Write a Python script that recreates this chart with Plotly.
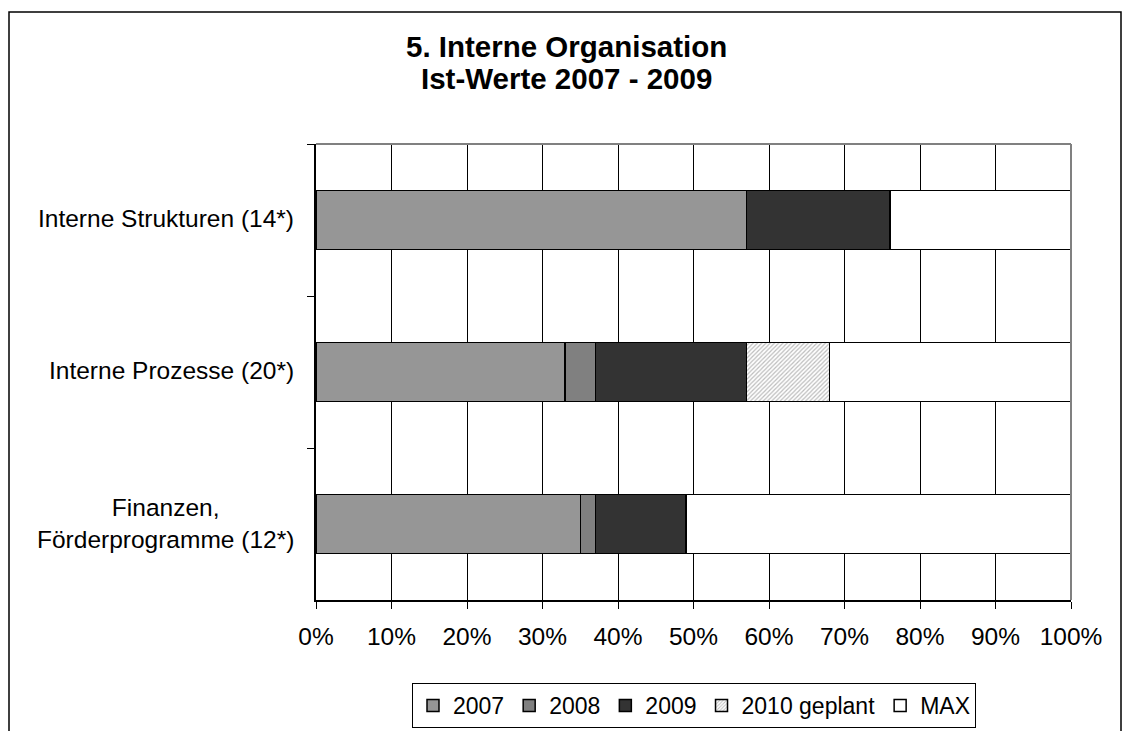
import plotly.graph_objects as go

categories = ["Interne Strukturen (14*)", "Interne Prozesse (20*)", "Finanzen,<br>Förderprogramme (12*)"]
series_names = ["2007", "2008", "2009", "2010 geplant", "MAX"]
v2007 = [57, 33, 35]
v2008 = [0, 4, 2]
v2009 = [19, 20, 12]
v2010 = [0, 11, 0]
vmax = [24, 32, 51]
x_ticks = [0, 10, 20, 30, 40, 50, 60, 70, 80, 90, 100]
x_tick_labels = [f"{t}%" for t in x_ticks]
title_lines = ["5. Interne Organisation", "Ist-Werte 2007 - 2009"]

FONT = "Liberation Sans, Arial, sans-serif"
values = [v2007, v2008, v2009, v2010, vmax]
colors = ["#969696", "#808080", "#333333", "#ffffff", "#ffffff"]

# pixel geometry of the plot area
PL, PR, PT, PB = 316, 1071, 144, 600
PW, PH = PR - PL, PB - PT

def px_x(px):
    return (px - PL) / PW

def px_y(py):
    return (PB - py) / PH

fig = go.Figure()
for name, vals, col in zip(series_names, values, colors):
    marker = dict(color=col, line=dict(color="#000000", width=1.5))
    if name == "2010 geplant":
        marker["pattern"] = dict(shape="/", fgcolor="#7a7a7a", bgcolor="#ffffff",
                                 size=3, solidity=0.4)
    fig.add_trace(go.Bar(
        name=name, x=vals, y=categories, orientation="h",
        marker=marker, width=0.39,
    ))

# category labels, centred lines like the original
for cat in categories:
    fig.add_annotation(
        x=0, xref="paper", y=cat, yref="y", text=cat, showarrow=False,
        xanchor="right", xshift=-20, yshift=1 if "<br>" in cat else 2,
        align="center",
        font=dict(family=FONT, size=24.5, color="#000000"),
    )

# title lines
for line, py in zip(title_lines, [46, 78]):
    fig.add_annotation(
        x=px_x(566), xref="paper", y=px_y(py), yref="paper",
        text=f"<b>{line}</b>", showarrow=False, xanchor="center", yanchor="middle",
        font=dict(family=FONT, size=29.5, color="#000000"),
    )

# plot-area top/right borders (grey)
fig.add_shape(type="line", xref="paper", yref="paper", x0=0, x1=1, y0=1, y1=1,
              line=dict(color="#808080", width=2), layer="above")
fig.add_shape(type="line", xref="paper", yref="paper", x0=1, x1=1, y0=0, y1=1,
              line=dict(color="#808080", width=2), layer="above")
# outer chart frame
fig.add_shape(type="rect", xref="paper", yref="paper",
              x0=px_x(9), x1=px_x(1121), y0=px_y(760), y1=px_y(12),
              line=dict(color="#000000", width=1.5), fillcolor="rgba(0,0,0,0)",
              layer="below")

fig.update_layout(
    barmode="stack",
    width=1127, height=731,
    margin=dict(l=PL, r=1127 - PR, t=PT, b=731 - PB, autoexpand=False),
    paper_bgcolor="#ffffff", plot_bgcolor="#ffffff",
    font=dict(family=FONT, size=24, color="#000000"),
    showlegend=True,
    legend=dict(
        orientation="h", x=px_x(694), xanchor="center", y=px_y(683), yanchor="top",
        bordercolor="#000000", borderwidth=1, bgcolor="#ffffff",
        font=dict(family=FONT, size=23, color="#000000"),
        traceorder="normal", itemwidth=30, tracegroupgap=0,
    ),
    xaxis=dict(
        range=[0, 100], tickvals=x_ticks, ticktext=x_tick_labels,
        showgrid=True, gridcolor="#000000", gridwidth=1,
        showline=True, linecolor="#000000", linewidth=2,
        ticks="outside", ticklen=7, tickcolor="#000000", tickwidth=1,
        ticklabelstandoff=7, zeroline=False, automargin=False,
        tickfont=dict(family=FONT, size=24.5, color="#000000"),
        fixedrange=True,
    ),
    yaxis=dict(
        categoryorder="array", categoryarray=categories,
        range=[2.5, -0.5],
        showticklabels=False, automargin=False,
        showline=True, linecolor="#000000", linewidth=2,
        ticks="outside", tickson="boundaries", ticklen=7, tickcolor="#000000",
        showgrid=False, zeroline=False, fixedrange=True,
    ),
)

fig.write_html(
    "out.html",
    config={"displayModeBar": False},
    post_script="document.body.style.margin='0';document.body.style.overflow='hidden';",
)
